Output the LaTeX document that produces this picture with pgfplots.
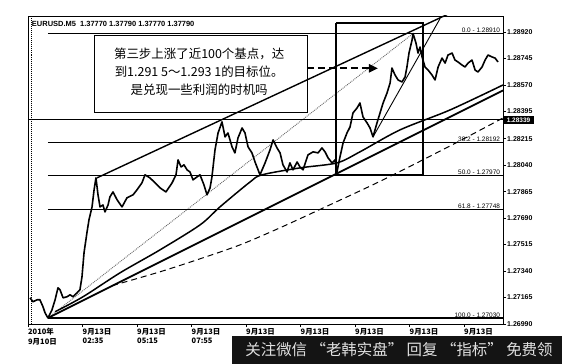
\documentclass[border=0pt]{standalone}
\usepackage{pgfplots}
\pgfplotsset{compat=1.18}
\usepackage{pgfplotstable}
\usepackage{fontspec}
\setmainfont{Liberation Sans}
\newfontfamily\cjk{Noto Sans CJK SC}
\usetikzlibrary{arrows.meta}

% EURUSD M5 closes (bar index, price)
\pgfplotstableread{
bar price
1.2 1.27163
2.9 1.27137
5.3 1.27150
7.0 1.27150
8.8 1.27104
10.0 1.27064
11.7 1.27030
14.1 1.27084
15.9 1.27150
17.6 1.27229
18.8 1.27216
20.6 1.27163
22.9 1.27170
24.7 1.27183
26.4 1.27170
28.8 1.27196
30.5 1.27216
31.7 1.27302
32.9 1.27461
34.6 1.27593
35.8 1.27678
37.6 1.27764
38.8 1.27877
39.9 1.27956
41.1 1.27844
42.3 1.27764
44.0 1.27777
45.2 1.27731
47.0 1.27777
48.1 1.27830
49.9 1.27863
52.3 1.27811
55.2 1.27764
58.1 1.27824
61.7 1.27844
64.0 1.27877
66.9 1.27923
68.7 1.27976
71.6 1.27956
74.6 1.27923
77.5 1.27890
81.0 1.27863
84.6 1.27923
86.9 1.27976
88.1 1.28075
89.9 1.28028
91.6 1.28042
93.4 1.28009
95.1 1.27995
96.9 1.27943
99.2 1.27962
101.0 1.27976
103.3 1.27910
105.1 1.27844
106.9 1.27890
108.0 1.27962
109.8 1.28141
111.6 1.28253
113.9 1.28326
115.7 1.28227
117.4 1.28253
119.8 1.28161
121.5 1.28121
123.3 1.28220
125.7 1.28286
127.4 1.28253
129.2 1.28161
131.5 1.28121
133.3 1.28061
135.1 1.28009
136.2 1.27976
139.2 1.28055
142.1 1.28141
143.9 1.28207
146.2 1.28154
148.0 1.28121
149.7 1.28042
152.1 1.27995
153.8 1.28055
155.6 1.28009
158.0 1.28061
159.7 1.28028
161.5 1.28009
164.4 1.28108
167.4 1.28128
170.3 1.28121
172.6 1.28154
174.4 1.28128
176.2 1.28088
178.5 1.28055
180.3 1.28075
181.4 1.27995
183.2 1.28095
185.0 1.28187
187.3 1.28253
189.1 1.28293
190.8 1.28385
193.2 1.28418
194.9 1.28451
196.7 1.28359
199.1 1.28319
200.8 1.28286
202.6 1.28227
204.9 1.28319
206.7 1.28385
208.5 1.28451
210.8 1.28517
212.6 1.28583
213.7 1.28682
215.5 1.28636
217.3 1.28603
219.6 1.28590
221.4 1.28623
222.5 1.28689
223.7 1.28781
225.5 1.28867
226.1 1.28910
227.8 1.28847
229.0 1.28781
230.2 1.28821
231.4 1.28755
233.1 1.28689
234.9 1.28669
237.2 1.28636
239.0 1.28603
240.8 1.28689
243.1 1.28748
244.9 1.28715
246.6 1.28768
249.0 1.28781
250.7 1.28735
252.5 1.28722
254.8 1.28702
256.6 1.28689
258.4 1.28715
260.7 1.28735
262.5 1.28669
264.2 1.28656
266.6 1.28689
268.4 1.28735
270.1 1.28768
272.5 1.28755
274.2 1.28748
276.0 1.28722
}\price

% faster moving average
\pgfplotstableread{
bar price
15.9 1.27071
32.3 1.27170
54.0 1.27328
77.5 1.27480
101.0 1.27645
112.7 1.27764
130.4 1.27929
137.4 1.27976
159.7 1.28022
181.4 1.28055
194.9 1.28128
218.4 1.28273
247.8 1.28405
278.9 1.28570
}\mafast

% slower moving average
\pgfplotstableread{
bar price
49.3 1.27243
77.5 1.27335
101.0 1.27421
124.5 1.27513
148.0 1.27626
177.3 1.27778
208.5 1.27943
247.8 1.28167
278.9 1.28352
}\maslow

\begin{document}
\begin{tikzpicture}
\useasboundingbox (-28bp,-40bp) rectangle (534bp,324bp);
\begin{axis}[
  at={(0,0)}, anchor=south west,
  scale only axis, width=475bp, height=308bp,
  xmin=0, xmax=278.9, ymin=1.26990, ymax=1.29026,
  axis line style={line width=0.8bp},
  tick style={black, line width=0.6bp},
  tick align=outside, major tick length=3bp,
  xtick pos=bottom,
  xtick={0,32,64,96,128,160,192,224,256},
  xticklabels={2010年\\9月10日, 9月13日\\02:35, 9月13日\\05:15, 9月13日\\07:55, 9月13日, 9月13日, 9月13日, 9月13日, 9月13日},
  xticklabel style={font=\cjk\bfseries\fontsize{7.5}{9.5}\selectfont, anchor=north west, align=left, inner xsep=0pt, inner ysep=1bp},
  ytick pos=right, yticklabel pos=right,
  ytick={1.26990,1.27165,1.27340,1.27515,1.27690,1.27865,1.28040,1.28215,1.28395,1.28570,1.28745,1.28920},
  yticklabels={1.26990,1.27165,1.27340,1.27515,1.27690,1.27865,1.28040,1.28215,1.28395,1.28570,1.28745,1.28920},
  yticklabel style={font=\bfseries\fontsize{7}{8}\selectfont, anchor=west, inner xsep=1bp},
]
% period separator
\addplot[black, densely dotted, line width=1bp] coordinates {(2.05,1.26990) (2.05,1.29026)};

% Fibonacci retracement: diagonal and levels
\addplot[black!60, densely dotted, line width=0.9bp] coordinates {(11.7,1.27030) (226.1,1.28910)};
\addplot[black, line width=1.1bp] coordinates {(11.7,1.28910) (278.9,1.28910)};
\addplot[black, line width=1.1bp] coordinates {(11.7,1.28192) (278.9,1.28192)};
\addplot[black, line width=1.1bp] coordinates {(11.7,1.27970) (278.9,1.27970)};
\addplot[black, line width=1.1bp] coordinates {(11.7,1.27748) (278.9,1.27748)};
\addplot[black, line width=1.4bp] coordinates {(11.7,1.27030) (278.9,1.27030)};
\begin{scope}[every node/.style={anchor=south east, inner sep=0.6bp, font=\fontsize{6.5}{7}\selectfont}]
\node at (axis cs:277.6,1.28910) {0.0 - 1.28910};
\node at (axis cs:277.6,1.28192) {38.2 - 1.28192};
\node at (axis cs:277.6,1.27970) {50.0 - 1.27970};
\node at (axis cs:277.6,1.27748) {61.8 - 1.27748};
\node at (axis cs:277.6,1.27030) {100.0 - 1.27030};
\end{scope}

% horizontal level
\addplot[black, line width=1bp] coordinates {(0,1.28339) (278.9,1.28339)};

% moving averages
\addplot[black, line width=1.5bp, smooth] table[x=bar, y=price] {\mafast};
\addplot[black, line width=1bp, dash pattern=on 6bp off 4bp, smooth] table[x=bar, y=price] {\maslow};

% trend lines
\addplot[black, line width=1.8bp] coordinates {(11.7,1.27030) (278.9,1.28534)};
\addplot[black, line width=1.4bp] coordinates {(40.5,1.27956) (246,1.29035)};
\addplot[black, line width=0.9bp] coordinates {(202.6,1.28227) (242,1.29010)};

% price
\addplot[black, line width=1.6bp, line join=round] table[x=bar, y=price] {\price};

% highlighted zone
\addplot[black, line width=2.4bp, line join=miter] coordinates {(180.9,1.28979) (232.0,1.28979) (232.0,1.27975) (180.9,1.27975) (180.9,1.28979)};

% annotation
\draw[black, line width=0.9bp] (axis cs:38.75,1.28900) rectangle (axis cs:163.8,1.28391);
\node[align=center, font=\cjk\fontsize{12.5}{18.5}\selectfont, inner sep=0pt] at (axis cs:100.5,1.28657)
  {第三步上涨了近100个基点，达\\到1.291 5～1.293 1的目标位。\\是兑现一些利润的时机吗};
\draw[black, line width=2.2bp, dash pattern=on 7bp off 4bp, -{Triangle[length=9bp,width=8bp]}]
  (axis cs:163.8,1.28680) -- (axis cs:205.5,1.28680);

% symbol header
\node[anchor=west, inner sep=0pt, font=\bfseries\fontsize{7.5}{8}\selectfont] at (rel axis cs:0.008,0.974)
  {EURUSD.M5\ \ 1.37770 1.37790 1.37770 1.37790};
\end{axis}

% current price tag on the scale
\fill[black] (475bp,200bp) rectangle (506bp,208bp);
\node[white, font=\bfseries\fontsize{6.5}{7}\selectfont, inner sep=0pt] at (490.5bp,204bp) {1.28339};

% banner
\fill[black!92] (204bp,-40bp) rectangle (534bp,-12bp);
\node[white!88!black, font=\cjk\fontsize{15.5}{16}\selectfont, inner sep=0pt] at (371bp,-26bp)
  {关注微信 “老韩实盘” 回复 “指标” 免费领};
\end{tikzpicture}
\end{document}
